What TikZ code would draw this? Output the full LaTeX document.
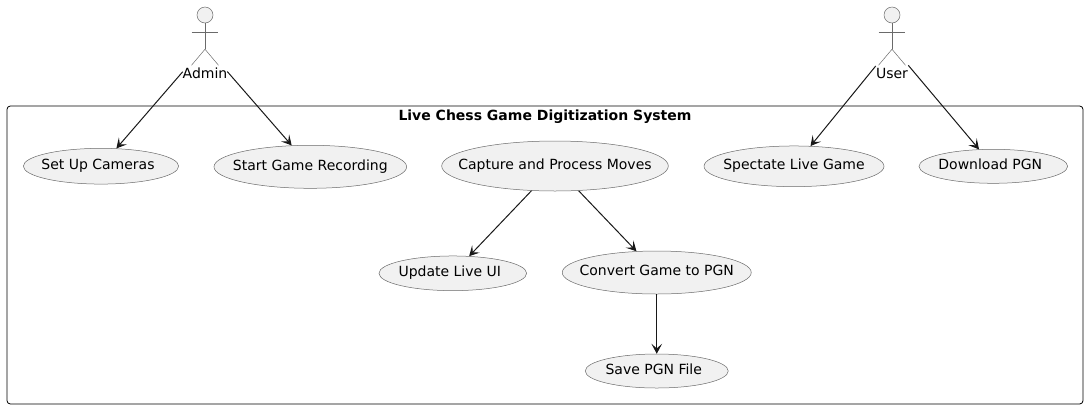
\documentclass[tikz,border=0pt]{standalone}
\usepackage{fontspec}
\setmainfont{DejaVu Sans}
\usetikzlibrary{shapes.geometric,arrows.meta,positioning}
\definecolor{linedark}{HTML}{181818}
\definecolor{linesoft}{HTML}{6A6A6A}
\definecolor{casefill}{HTML}{F1F1F1}

\begin{document}
\begin{tikzpicture}[
    x=0.75pt,y=-0.75pt,
    usecase/.style={ellipse,draw=linesoft,fill=casefill,line width=0.375pt,inner xsep=-20pt,inner ysep=0pt,text height=8pt,text depth=2.8pt,font=\fontsize{10.5pt}{12pt}\selectfont,text=black},
    nudged/.style={execute at end node=\kern4.5pt},
    actorzone/.style={rectangle,inner sep=0pt,minimum height=51pt},
    actorname/.style={font=\fontsize{10.5pt}{12pt}\selectfont,inner sep=0pt},
    stick/.style={draw=linesoft,line width=0.375pt},
    arrow/.style={-{Stealth[length=7.5pt,width=8pt,inset=3.5pt]},line width=0.75pt,draw=linedark}
]
\useasboundingbox (0,0) rectangle (1088,408);
\node[draw=black,line width=0.6pt,rounded corners=2.5pt,minimum width=807pt,minimum height=223.5pt,inner sep=0pt] (system) at (545,255) {};
\node[font=\bfseries\fontsize{10.5pt}{12pt}\selectfont,inner sep=0pt] (title) at (545,116.5) {Live Chess Game Digitization System};

\node[usecase,nudged,minimum width=116.5pt,minimum height=26.8pt] (cameras) at (101,166.2) {Set Up Cameras};
\node[usecase,minimum width=144.5pt,minimum height=32.25pt] (recording) at (310.3,166.8) {Start Game Recording};
\node[usecase,minimum width=170pt,minimum height=37.5pt] (capture) at (555,166) {Capture and Process Moves};
\node[usecase,minimum width=135pt,minimum height=30.5pt] (spectate) at (794,166.3) {Spectate Live Game};
\node[usecase,nudged,minimum width=111.5pt,minimum height=25.5pt] (download) at (993.3,166.3) {Download PGN};
\node[usecase,nudged,minimum width=110.75pt,minimum height=26pt] (liveui) at (452.8,273.3) {Update Live UI};
\node[usecase,minimum width=141.75pt,minimum height=32.25pt] (convert) at (656.75,272.5) {Convert Game to PGN};
\node[usecase,nudged,minimum width=107.25pt,minimum height=25.5pt] (savepgn) at (656.75,371) {Save PGN File};

% actors
\node[actorzone,minimum width=33pt] (admin) at (205,46) {};
\node[actorzone,minimum width=24pt] (user) at (892,46) {};
\node[actorname] (adminname) at (205,73) {Admin};
\node[actorname] (username) at (892,73) {User};
\foreach \who in {admin,user} {
    \node[circle,draw=linesoft,fill=casefill,line width=0.375pt,minimum size=12pt,inner sep=0pt] (\who head) at ([yshift=23.25pt]\who.center) {};
    \draw[stick] (\who head.south) -- ++(0,26) coordinate (\who hip);
    \draw[stick] ([xshift=-10pt,yshift=-7pt]\who head.south) -- ([xshift=10pt,yshift=-7pt]\who head.south);
    \draw[stick] (\who hip) -- ++(-13.5,16);
    \draw[stick] (\who hip) -- ++(13.5,16);
}

\draw[arrow] (admin) -- (cameras);
\draw[arrow] (admin) -- (recording);
\draw[arrow] (user) -- (spectate);
\draw[arrow] (user) -- (download);
\draw[arrow] (capture) -- (liveui);
\draw[arrow] (capture) -- (convert);
\draw[arrow] (convert) -- (savepgn);
\end{tikzpicture}
\end{document}
